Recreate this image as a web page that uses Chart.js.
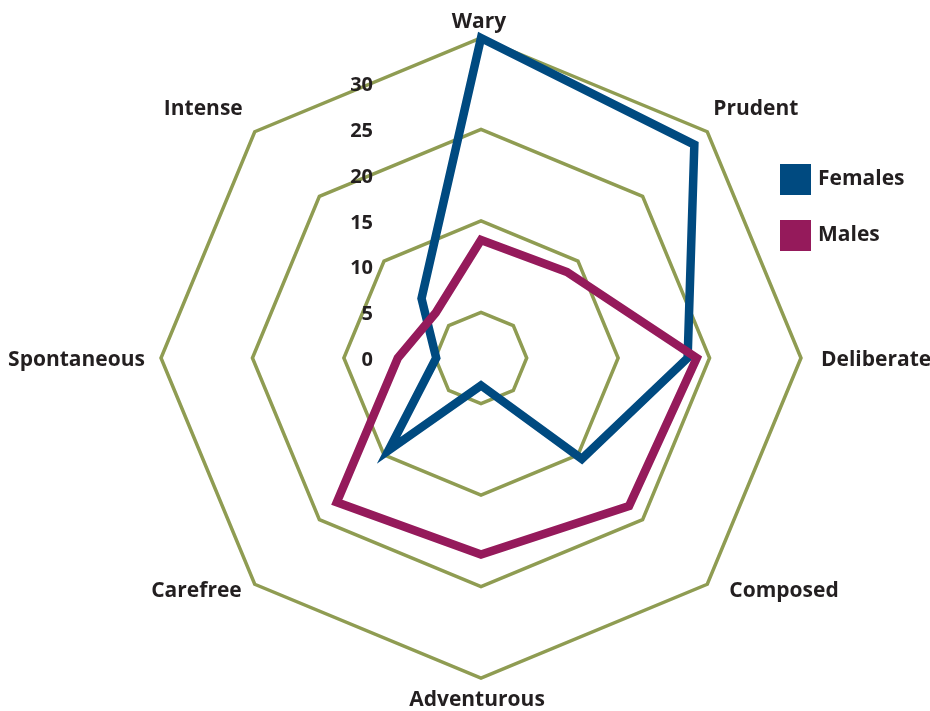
<!DOCTYPE html>
<html>
<head>
<meta charset="utf-8">
<script src="https://cdn.jsdelivr.net/npm/chart.js@4"></script>
<style>
  body { margin: 0; background: #fff; }
  #wrap { position: relative; width: 930px; height: 711px; }
  .legend { position: absolute; left: 780px; font: bold 21px "Open Sans", sans-serif; color: #231f20; }
  .legend span { display: inline-block; width: 31px; height: 31px; vertical-align: middle; margin-right: 7px; }
</style>
</head>
<body>
<div id="wrap">
  <canvas id="radar-chart"></canvas>
  <div class="legend" style="top:163px"><span style="background:#004a80"></span>Females</div>
  <div class="legend" style="top:219px"><span style="background:#951a5b"></span>Males</div>
</div>
<script>
const traits = ['Wary', 'Prudent', 'Deliberate', 'Composed', 'Adventurous', 'Carefree', 'Spontaneous', 'Intense'];
const females = [35, 33, 22.6, 15.6, 3, 14.3, 4.9, 9.2];
const males = [12.9, 13.3, 23.6, 22.9, 21.5, 22.3, 9.1, 7];
const tickValues = [0, 5, 10, 15, 20, 25, 30];

const textColor = '#231f20';
const gridColor = '#8f9c52';
const labelFont = 'bold 21px "Open Sans", sans-serif';

// where each trait label sits relative to its outer ring corner
const labelStyle = [
    { align: 'center', dx: -2, dy: -16 },
    { align: 'left', dx: 6, dy: -23 },
    { align: 'left', dx: 20, dy: 2 },
    { align: 'left', dx: 22, dy: 7 },
    { align: 'center', dx: -4, dy: 22 },
    { align: 'right', dx: -13, dy: 7 },
    { align: 'right', dx: -16, dy: 2 },
    { align: 'right', dx: -12, dy: -23 }
];

// trait names and tick numbers, placed from the radial scale
const radarText = {
    id: 'radarText',
    afterDraw(chart) {
        const scale = chart.scales.r;
        const ctx = chart.ctx;
        ctx.save();
        ctx.fillStyle = textColor;
        ctx.textBaseline = 'middle';

        ctx.font = 'bold 20px "Open Sans", sans-serif';
        ctx.textAlign = 'right';
        tickValues.forEach(v => {
            const y = scale.yCenter - scale.getDistanceFromCenterForValue(v);
            ctx.fillText(String(v), scale.xCenter - 108, y + 2);
        });

        ctx.font = labelFont;
        traits.forEach((name, i) => {
            const p = scale.getPointPosition(i, scale.drawingArea);
            const s = labelStyle[i];
            ctx.textAlign = s.align;
            ctx.fillText(name, p.x + s.dx, p.y + s.dy);
        });
        ctx.restore();
    }
};

const data = {
    labels: traits,
    datasets: [{
        label: 'Females',
        data: females,
        borderColor: '#004a80',
        backgroundColor: '#004a80',
        borderWidth: 8.5,
        borderJoinStyle: 'miter',
        pointRadius: 0,
        fill: false,
        order: 1
    },
    {
        label: 'Males',
        data: males,
        borderColor: '#951a5b',
        backgroundColor: '#951a5b',
        borderWidth: 8.5,
        borderJoinStyle: 'miter',
        pointRadius: 0,
        fill: false,
        order: 0
    }]
};

const config = {
    type: 'radar',
    data: data,
    options: {
        responsive: true,
        maintainAspectRatio: false,
        animation: false,
        layout: { padding: { left: 161, right: 129, top: 38, bottom: 33 } },
        plugins: {
            legend: { display: false },
            tooltip: { enabled: false }
        },
        scales: {
            r: {
                min: 0,
                max: 35,
                ticks: { stepSize: 5, display: false },
                angleLines: { display: false },
                grid: {
                    lineWidth: 3.5,
                    color: ctx => (ctx.tick && ctx.tick.value % 10 === 5) ? gridColor : 'rgba(0,0,0,0)'
                },
                pointLabels: { display: false }
            }
        }
    },
    plugins: [radarText]
};

window.onload = function() {
    var ctx = document.getElementById('radar-chart').getContext('2d');
    window.myRadar = new Chart(ctx, config);
};
</script>
</body>
</html>
